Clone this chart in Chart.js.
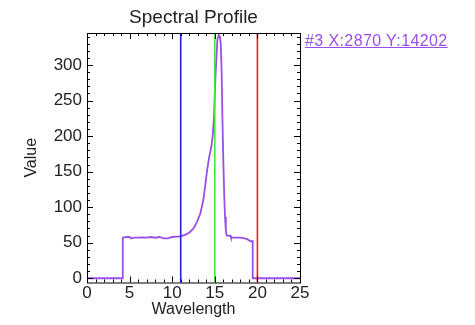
<!DOCTYPE html>
<html lang="en">
<head>
    <meta charset="UTF-8">
    <style>
        body { margin: 0; background: #fff; }
        #wrap { position: relative; width: 475px; height: 325px; }
        #cursorLabel {
            position: absolute; left: 305px; top: 32px;
            font: 16px "Liberation Sans", sans-serif;
            letter-spacing: 0.4px;
            color: #9a4fe6; text-decoration: underline;
        }
    </style>
</head>
<body>
    <div id="wrap">
        <canvas id="profileChart" width="475" height="325"></canvas>
        <div id="cursorLabel">#3 X:2870 Y:14202</div>
    </div>

    <script src="https://cdn.jsdelivr.net/npm/chart.js"></script>
    <script>
        // spectrum
        const wavelength = [0, 4.2, 4.2, 4.6, 5.0, 5.2, 5.5, 6.0, 6.5, 7.0, 7.5, 8.0, 8.5, 9.0, 9.5, 10.0, 10.5, 11.0,
            11.5, 12.0, 12.5, 12.9, 13.3, 13.65, 13.85, 14.1, 14.35, 14.6, 14.75, 14.9, 15.0, 15.1, 15.2, 15.3, 15.45,
            15.6, 15.7, 15.8, 15.9, 16.0, 16.1, 16.2, 16.3, 16.4, 16.8, 16.9, 17.5, 18.0, 18.5, 18.8, 19.2, 19.45, 19.45, 25];
        const intensity = [0, 0, 57, 58, 58, 56, 57, 57, 57.5, 57, 58, 57, 58, 56, 56, 58, 58.5, 59,
            61, 64, 70, 79, 91, 110, 128, 152, 171, 185, 200, 225, 260, 290, 311, 335, 342,
            340, 330, 292, 222, 165, 120, 86, 66, 60, 60, 57, 57, 57, 56, 55, 52, 52, 0, 0];

        const markerX = [11, 15, 20];
        const markerColors = ["#2020e0", "#40e840", "#ff1a1a"];

        const xTicks = [0, 5, 10, 15, 20, 25];
        const yTicks = [0, 50, 100, 150, 200, 250, 300];
        const xMin = 0, xMax = 25, yMin = -6, yMax = 345;

        const fontName = "'Liberation Sans', 'DejaVu Sans', sans-serif";

        const datasets = markerX.map((m, i) => ({
            data: [{ x: m, y: yMin }, { x: m, y: yMax }],
            borderColor: markerColors[i],
            borderWidth: 1.6,
            pointRadius: 0
        }));
        datasets.push({
            data: wavelength.map((w, i) => ({ x: w, y: intensity[i] })),
            borderColor: "#9a4fe6",
            borderWidth: 1.8,
            pointRadius: 0,
            tension: 0
        });

        // box round the plot with inward ticks on all four sides
        const boxTicks = {
            id: "boxTicks",
            afterDraw(chart) {
                const { ctx, chartArea: a, scales: { x, y } } = chart;
                ctx.save();
                ctx.strokeStyle = "#000";
                ctx.lineWidth = 1;
                ctx.strokeRect(a.left + 0.5, a.top + 0.5, a.right - a.left, a.bottom - a.top);
                ctx.beginPath();
                for (let v = xMin; v <= xMax; v += 1) {
                    const px = Math.round(x.getPixelForValue(v)) + 0.5;
                    const len = v % 5 === 0 ? 6 : 3;
                    ctx.moveTo(px, a.bottom); ctx.lineTo(px, a.bottom - len);
                    ctx.moveTo(px, a.top); ctx.lineTo(px, a.top + len);
                }
                for (let v = 0; v <= yMax; v += 10) {
                    const py = Math.round(y.getPixelForValue(v)) + 0.5;
                    const len = v % 50 === 0 ? 6 : 3;
                    ctx.moveTo(a.left, py); ctx.lineTo(a.left + len, py);
                    ctx.moveTo(a.right, py); ctx.lineTo(a.right - len, py);
                }
                ctx.stroke();
                ctx.restore();
            }
        };

        const config = {
            type: "line",
            data: { datasets: datasets },
            options: {
                responsive: false,
                animation: false,
                layout: { padding: { top: 0, right: 175, left: 0, bottom: 0 } },
                plugins: {
                    legend: { display: false },
                    tooltip: { enabled: false },
                    title: {
                        display: true,
                        fullSize: false,
                        text: "Spectral Profile",
                        color: "#222",
                        font: { family: fontName, size: 19, weight: "normal" },
                        padding: { top: 6, bottom: 4.2 }
                    }
                },
                scales: {
                    x: {
                        type: "linear",
                        min: xMin,
                        max: xMax,
                        border: { display: false },
                        grid: { display: false, drawTicks: false },
                        afterBuildTicks: s => { s.ticks = xTicks.map(v => ({ value: v })); },
                        afterFit: s => { s.height = 42.5; },
                        ticks: {
                            padding: 1,
                            color: "#222",
                            maxRotation: 0,
                            font: { family: fontName, size: 17 }
                        },
                        title: {
                            display: true,
                            text: "Wavelength",
                            color: "#222",
                            font: { family: fontName, size: 16 },
                            padding: { top: 0, bottom: 6 }
                        }
                    },
                    y: {
                        min: yMin,
                        max: yMax,
                        border: { display: false },
                        grid: { display: false, drawTicks: false },
                        afterBuildTicks: s => { s.ticks = yTicks.map(v => ({ value: v })); },
                        afterFit: s => { s.width = 87; },
                        ticks: {
                            padding: 5,
                            color: "#222",
                            font: { family: fontName, size: 17 }
                        },
                        title: {
                            display: true,
                            text: "Value",
                            color: "#222",
                            font: { family: fontName, size: 16 },
                            padding: { top: 22, bottom: 0 }
                        }
                    }
                }
            },
            plugins: [boxTicks]
        };

        const ctx = document.getElementById("profileChart").getContext("2d");
        new Chart(ctx, config);
    </script>
</body>
</html>
